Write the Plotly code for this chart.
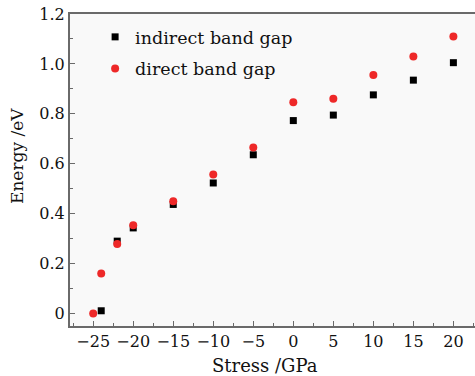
import plotly.graph_objects as go

# Band gap versus applied stress
stress_indirect = [-24, -22, -20, -15, -10, -5, 0, 5, 10, 15, 20]
gap_indirect = [0.011, 0.29, 0.343, 0.437, 0.523, 0.636, 0.773, 0.795, 0.876, 0.935, 1.005]

stress_direct = [-25, -24, -22, -20, -15, -10, -5, 0, 5, 10, 15, 20]
gap_direct = [0.0, 0.16, 0.279, 0.354, 0.45, 0.557, 0.665, 0.846, 0.86, 0.956, 1.03, 1.11]

x_ticks = [-25, -20, -15, -10, -5, 0, 5, 10, 15, 20]
y_ticks = [0, 0.2, 0.4, 0.6, 0.8, 1.0, 1.2]
y_tick_text = ["0", "0.2", "0.4", "0.6", "0.8", "1.0", "1.2"]

FONT = "DejaVu Serif"
AXIS_COLOR = "#6a6a6a"
TEXT_COLOR = "#111111"

fig = go.Figure()
fig.add_trace(go.Scatter(
    x=stress_indirect, y=gap_indirect, mode="markers",
    name="indirect band gap", legendgroup="indirect",
    marker=dict(symbol="square", size=7, color="#000000"),
))
fig.add_trace(go.Scatter(
    x=stress_direct, y=gap_direct, mode="markers",
    name="direct band gap", legendgroup="direct",
    marker=dict(symbol="circle", size=8, color="#ee2828"),
))

fig.update_layout(
    width=475, height=376,
    margin=dict(l=70, r=0, t=14, b=50),
    paper_bgcolor="#ffffff",
    plot_bgcolor="#f9f9f9",
    font=dict(family=FONT, size=16, color=TEXT_COLOR),
    showlegend=True,
    legend=dict(
        x=0.062, y=0.984, xanchor="left", yanchor="top",
        bgcolor="rgba(0,0,0,0)", font=dict(family=FONT, size=17.5),
        itemsizing="trace", traceorder="grouped", tracegroupgap=6,
    ),
    annotations=[
        dict(text="Stress /GPa", xref="paper", yref="paper",
             x=(265 - 70) / 405, y=-(365 - 326) / 312,
             xanchor="center", yanchor="middle", showarrow=False,
             font=dict(family=FONT, size=18, color=TEXT_COLOR)),
        dict(text="Energy /eV", xref="paper", yref="paper",
             x=-(70 - 17) / 405, y=(326 - 156) / 312,
             xanchor="center", yanchor="middle", showarrow=False, textangle=-90,
             font=dict(family=FONT, size=17, color=TEXT_COLOR)),
    ],
)

fig.update_xaxes(
    range=[-27.9, 22.7],
    tickvals=x_ticks,
    ticktext=[str(v).replace("-", "\u2212") for v in x_ticks],
    ticks="inside", ticklen=5, tickwidth=1, tickcolor=AXIS_COLOR,
    minor=dict(dtick=2.5, tick0=0, ticks="inside", ticklen=3, tickcolor=AXIS_COLOR),
    showline=True, linecolor=AXIS_COLOR, linewidth=2, mirror=True,
    showgrid=False, zeroline=False,
)
fig.update_yaxes(
    range=[-0.05, 1.2],
    tickvals=y_ticks, ticktext=y_tick_text,
    ticks="inside", ticklen=5, tickwidth=1, tickcolor=AXIS_COLOR,
    minor=dict(dtick=0.1, tick0=0, ticks="inside", ticklen=3, tickcolor=AXIS_COLOR),
    showline=True, linecolor=AXIS_COLOR, linewidth=2,
    showgrid=False, zeroline=False,
)

fig.write_html("out.html")
